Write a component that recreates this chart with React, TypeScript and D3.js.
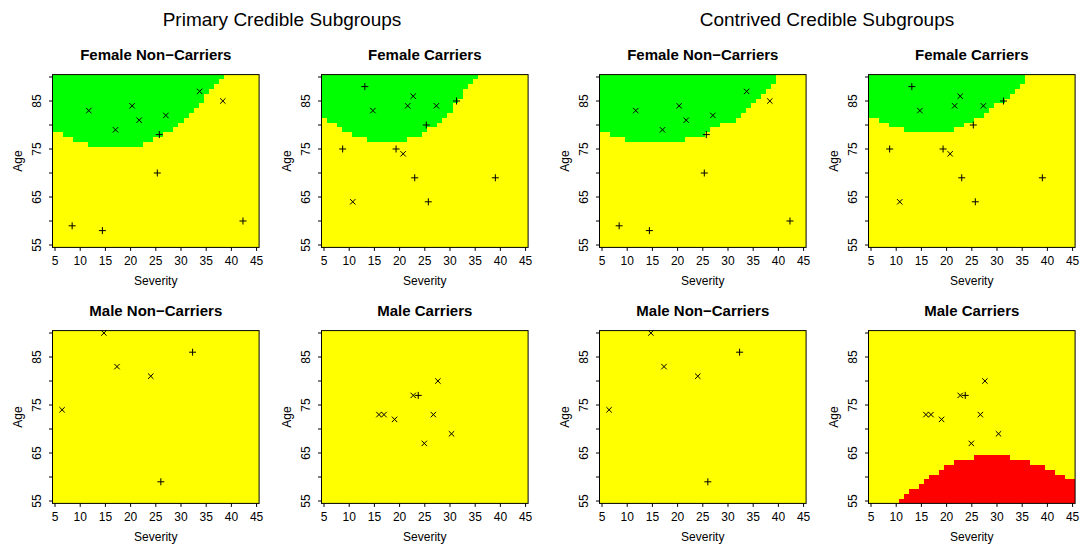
import React from 'react';
import * as d3 from 'd3';

// Severity grid columns (cells of width 1 centred on each value)
const severityColumns = [5, 6, 7, 8, 9, 10, 11, 12, 13, 14, 15, 16, 17, 18, 19, 20, 21, 22, 23, 24, 25, 26, 27, 28, 29, 30, 31, 32, 33, 34, 35, 36, 37, 38, 39, 40, 41, 42, 43, 44, 45];
const severityTicks = [5, 10, 15, 20, 25, 30, 35, 40, 45];
const ageTicks = [55, 60, 65, 70, 75, 80, 85, 90];
const ageTickLabels = [55, 65, 75, 85];

// Lowest age of the green (credible benefit) region for each severity column, null = none
const primaryFemaleNonCarrierGreen = [79, 79, 78, 78, 77, 77, 77, 76, 76, 76, 76, 76, 76, 76, 76, 76, 76, 76, 77, 77, 78, 78, 79, 79, 80, 81, 82, 83, 84, 85, 87, 88, 89, 90, null, null, null, null, null, null, null];
const primaryFemaleCarrierGreen = [82, 81, 81, 80, 79, 79, 78, 78, 78, 77, 77, 77, 77, 77, 77, 77, 77, 78, 78, 78, 79, 80, 80, 81, 82, 83, 85, 86, 88, 89, 90, null, null, null, null, null, null, null, null, null, null];
const contrivedFemaleNonCarrierGreen = [79, 79, 78, 78, 78, 77, 77, 77, 77, 77, 77, 77, 77, 77, 77, 77, 77, 78, 78, 78, 78, 79, 80, 80, 81, 81, 81, 82, 83, 84, 85, 86, 87, 88, 89, null, null, null, null, null, null];
const contrivedFemaleCarrierGreen = [82, 82, 81, 81, 80, 80, 80, 79, 79, 79, 79, 79, 79, 79, 79, 79, 79, 80, 80, 81, 81, 82, 82, 83, 84, 85, 85, 86, 87, 88, 89, null, null, null, null, null, null, null, null, null, null];
// Highest age of the red (credible harm) region for each severity column, null = none
const contrivedMaleCarrierRed = [null, null, null, null, null, null, 55, 56, 57, 57, 58, 59, 60, 60, 61, 62, 62, 63, 63, 63, 63, 64, 64, 64, 64, 64, 64, 64, 63, 63, 63, 63, 62, 62, 62, 61, 61, 60, 60, 59, 59];

// Observed patients: [severity, age]
const femaleNonCarrierCross = [[11.7, 83], [17, 79], [20.3, 84], [21.7, 81], [27, 82], [33.7, 87], [38.3, 85]];
const femaleNonCarrierPlus = [[8.4, 59], [14.4, 58], [25.7, 78], [25.3, 70], [42.3, 60]];
const femaleCarrierCross = [[14.7, 83], [21.6, 84], [22.7, 86], [27.3, 84], [20.7, 74], [10.7, 64]];
const femaleCarrierPlus = [[13.1, 88], [25.3, 80], [31.3, 85], [8.7, 75], [19.3, 75], [23, 69], [25.7, 64], [39, 69]];
const maleNonCarrierCross = [[6.4, 74], [14.7, 90], [17.3, 83], [24, 81]];
const maleNonCarrierPlus = [[32.3, 86], [26, 59]];
const maleCarrierCross = [[15.9, 73], [16.9, 73], [19, 72], [22.7, 77], [27.6, 80], [26.7, 73], [24.9, 67], [30.3, 69]];
const maleCarrierPlus = [[23.7, 77]];

const groupTitles = ['Female Non\u2212Carriers', 'Female Carriers', 'Male Non\u2212Carriers', 'Male Carriers'];
const sectionTitles = ['Primary Credible Subgroups', 'Contrived Credible Subgroups'];

const FONT = '"Liberation Sans", Arial, Helvetica, sans-serif';
const YELLOW = '#ffff00';
const GREEN = '#00ff00';
const RED = '#ff0000';

const BOX_W = 206.6;
const BOX_H = 172.8;

type Pt = number[];

function Panel(props: {
  left: number; top: number; title: string;
  cross: Pt[]; plus: Pt[];
  green?: (number | null)[]; red?: (number | null)[];
}) {
  const { left, top, title, cross, plus, green, red } = props;
  const x = d3.scaleLinear().domain([4.5, 45.5]).range([left, left + BOX_W]);
  const y = d3.scaleLinear().domain([54.5, 90.5]).range([top + BOX_H, top]);
  const bottom = top + BOX_H;
  const cx = left + BOX_W / 2;
  const cy = top + BOX_H / 2;
  return (
    <g>
      <rect x={left} y={top} width={BOX_W} height={BOX_H} fill={YELLOW} />
      <g shapeRendering="crispEdges">
        {green && severityColumns.map((s, i) => {
          const a = green[i];
          if (a == null) return null;
          return <rect key={'g' + s} x={x(s - 0.5)} y={y(90.5)} width={x(s + 0.5) - x(s - 0.5)} height={y(a - 0.5) - y(90.5)} fill={GREEN} />;
        })}
        {red && severityColumns.map((s, i) => {
          const a = red[i];
          if (a == null) return null;
          return <rect key={'r' + s} x={x(s - 0.5)} y={y(a + 0.5)} width={x(s + 0.5) - x(s - 0.5)} height={y(54.5) - y(a + 0.5)} fill={RED} />;
        })}
      </g>
      {cross.map((p, i) => (
        <path key={'c' + i} transform={`translate(${x(p[0])},${y(p[1])})`} d="M-2.7,-2.7L2.7,2.7M-2.7,2.7L2.7,-2.7" stroke="#000" strokeWidth={1} fill="none" />
      ))}
      {plus.map((p, i) => (
        <path key={'p' + i} transform={`translate(${x(p[0])},${y(p[1])})`} d="M-3.5,0H3.5M0,-3.5V3.5" stroke="#000" strokeWidth={1} fill="none" />
      ))}
      <rect x={left} y={top} width={BOX_W} height={BOX_H} fill="none" stroke="#000" strokeWidth={1} />
      {severityTicks.map(t => (
        <g key={'xt' + t}>
          <line x1={x(t)} x2={x(t)} y1={bottom} y2={bottom + 3.5} stroke="#000" strokeWidth={1} />
          <text x={x(t)} y={bottom + 18} textAnchor="middle" fontSize={12} fontFamily={FONT} fill="#000">{t}</text>
        </g>
      ))}
      {ageTicks.map(t => (
        <line key={'yt' + t} x1={left} x2={left - 3.5} y1={y(t)} y2={y(t)} stroke="#000" strokeWidth={1} />
      ))}
      {ageTickLabels.map(t => (
        <text key={'yl' + t} transform={`translate(${left - 11.5},${y(t)}) rotate(-90)`} textAnchor="middle" fontSize={12} fontFamily={FONT} fill="#000">{t}</text>
      ))}
      <text x={cx} y={top - 14.2} textAnchor="middle" fontSize={15} fontWeight="bold" fontFamily={FONT} fill="#000">{title}</text>
      <text x={cx} y={bottom + 38} textAnchor="middle" fontSize={12} fontFamily={FONT} fill="#000">Severity</text>
      <text transform={`translate(${left - 31},${cy}) rotate(-90)`} textAnchor="middle" fontSize={12} fontFamily={FONT} fill="#000">Age</text>
    </g>
  );
}

export default function App() {
  const lefts = [52.5, 321.5, 599.5, 868.5];
  const tops = [74.6, 330.6];
  return (
    <svg width={1080} height={544} style={{ position: 'absolute', left: 0, top: 0, display: 'block', background: '#fff' }}>
      <rect x={0} y={0} width={1080} height={544} fill="#fff" />
      <text x={282} y={26} textAnchor="middle" fontSize={19} fontFamily={FONT} fill="#000">{sectionTitles[0]}</text>
      <text x={827} y={26} textAnchor="middle" fontSize={19} fontFamily={FONT} fill="#000">{sectionTitles[1]}</text>

      <Panel left={lefts[0]} top={tops[0]} title={groupTitles[0]} cross={femaleNonCarrierCross} plus={femaleNonCarrierPlus} green={primaryFemaleNonCarrierGreen} />
      <Panel left={lefts[1]} top={tops[0]} title={groupTitles[1]} cross={femaleCarrierCross} plus={femaleCarrierPlus} green={primaryFemaleCarrierGreen} />
      <Panel left={lefts[2]} top={tops[0]} title={groupTitles[0]} cross={femaleNonCarrierCross} plus={femaleNonCarrierPlus} green={contrivedFemaleNonCarrierGreen} />
      <Panel left={lefts[3]} top={tops[0]} title={groupTitles[1]} cross={femaleCarrierCross} plus={femaleCarrierPlus} green={contrivedFemaleCarrierGreen} />

      <Panel left={lefts[0]} top={tops[1]} title={groupTitles[2]} cross={maleNonCarrierCross} plus={maleNonCarrierPlus} />
      <Panel left={lefts[1]} top={tops[1]} title={groupTitles[3]} cross={maleCarrierCross} plus={maleCarrierPlus} />
      <Panel left={lefts[2]} top={tops[1]} title={groupTitles[2]} cross={maleNonCarrierCross} plus={maleNonCarrierPlus} />
      <Panel left={lefts[3]} top={tops[1]} title={groupTitles[3]} cross={maleCarrierCross} plus={maleCarrierPlus} red={contrivedMaleCarrierRed} />
    </svg>
  );
}
